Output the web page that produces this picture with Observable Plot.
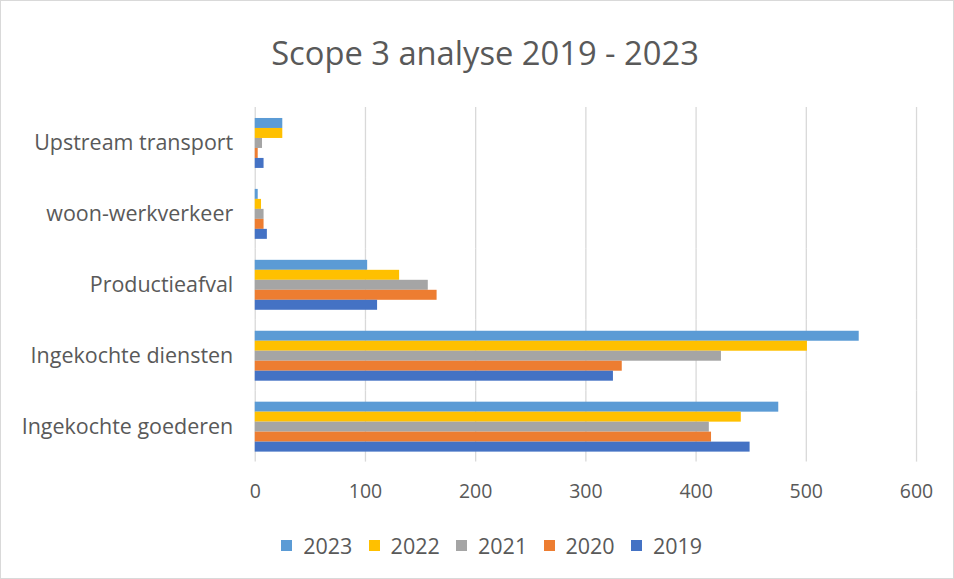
<!DOCTYPE html>
<html>
<head>
<meta charset="utf-8">
<script src="https://cdn.jsdelivr.net/npm/d3@7"></script>
<script src="https://cdn.jsdelivr.net/npm/@observablehq/plot@0.6"></script>
<style>
  body { margin: 0; background: #fff; }
  #chart { position: relative; width: 952px; height: 577px; border: 1px solid #d9d9d9; font-family: "Open Sans", sans-serif; color: #595959; overflow: hidden; }
  #title { position: absolute; left: 8px; top: 2px; width: 100%; height: 100px; line-height: 100px; text-align: center; font-size: 32.7px; }
  #plot { position: absolute; left: -1px; top: 99px; }
  #legend { position: absolute; left: 23px; top: 528px; width: 100%; display: flex; justify-content: center; }
  #plot g[aria-label^="fy-axis"] { font-size: 21.5px; }
  #legend .leg-swatch { margin-right: 16.5px !important; }
</style>
</head>
<body>
<div id="chart">
  <div id="title">Scope 3 analyse 2019 - 2023</div>
  <div id="plot"></div>
  <div id="legend"></div>
</div>
<script>
const categories = ["Upstream transport", "woon-werkverkeer", "Productieafval", "Ingekochte diensten", "Ingekochte goederen"];
const years = ["2023", "2022", "2021", "2020", "2019"];
const colors = ["#5B9BD5", "#FFC000", "#A5A5A5", "#ED7D31", "#4472C4"];
const v2023 = [25, 2.7, 102, 548, 475];
const v2022 = [25, 5.7, 131, 501, 441];
const v2021 = [6.6, 8, 157, 423, 412];
const v2020 = [2.7, 8, 165, 333, 414];
const v2019 = [8, 11, 111, 325, 449];
const xTicks = [0, 100, 200, 300, 400, 500, 600];

const series = {"2023": v2023, "2022": v2022, "2021": v2021, "2020": v2020, "2019": v2019};
const data = [];
categories.forEach((c, i) => years.forEach(y => data.push({category: c, year: y, value: series[y][i]})));

const chart = Plot.plot({
  width: 954,
  height: 420,
  marginTop: 7,
  marginBottom: 58,
  marginLeft: 255,
  marginRight: 37,
  style: {fontFamily: "Open Sans, sans-serif", fontSize: "19.5px", color: "#595959", background: "transparent"},
  fy: {domain: categories, padding: 0, axis: "left", label: null, tickSize: 0, tickPadding: 22},
  y: {domain: years, axis: null, paddingInner: 0, paddingOuter: 0.91},
  x: {domain: [0, 600], ticks: xTicks, tickSize: 0, tickPadding: 22, label: null},
  color: {domain: years, range: colors},
  marks: [
    Plot.ruleX(xTicks, {stroke: "#d9d9d9", strokeWidth: 1.3}),
    Plot.barX(data, {x: "value", y: "year", fy: "category", fill: "year"})
  ]
});
document.getElementById("plot").appendChild(chart);

const leg = Plot.legend({
  color: {domain: years, range: colors},
  legend: "swatches",
  className: "leg",
  swatchSize: 11,
  style: {fontFamily: "Open Sans, sans-serif", fontSize: "21.5px", color: "#595959"}
});
document.getElementById("legend").appendChild(leg);
</script>
</body>
</html>
